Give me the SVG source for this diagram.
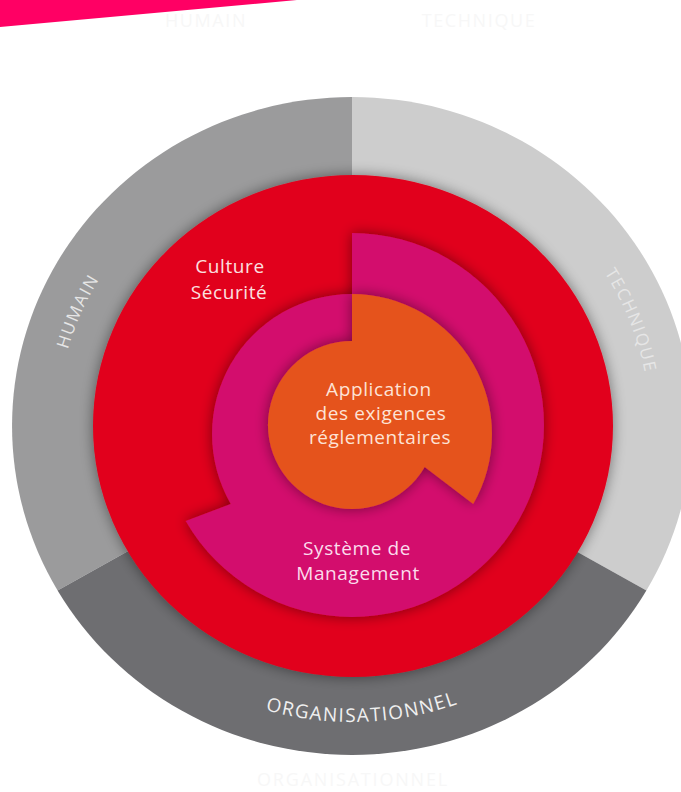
<svg xmlns="http://www.w3.org/2000/svg" xmlns:xlink="http://www.w3.org/1999/xlink" width="681" height="792" viewBox="0 0 681 792">
<style>
.lbl{font-family:"Open Sans","Liberation Sans",sans-serif;font-size:19px;letter-spacing:0.6px;text-anchor:middle}
.ring{font-family:"Open Sans","Liberation Sans",sans-serif;font-size:17px;letter-spacing:1.6px;fill:#e6e6e6}
.faint{font-family:"Open Sans","Liberation Sans",sans-serif;font-size:18px;fill:#f7f7f7;text-anchor:middle}
</style>
<defs>
<filter id="shadow" x="-20%" y="-20%" width="140%" height="140%">
<feGaussianBlur in="SourceAlpha" stdDeviation="7"/>
<feComponentTransfer><feFuncA type="linear" slope="0.45"/></feComponentTransfer>
<feMerge><feMergeNode/><feMergeNode in="SourceGraphic"/></feMerge>
</filter>
<path id="pHum" d="M78.5,532.9 A295,285.3 0 0 1 241.5,161.5"/>
<path id="pTec" d="M473.2,162.7 A298,288.2 0 0 1 624.2,543.2"/>
<path id="pOrg" d="M143.3,642.5 A306,296 0 0 0 575.8,627.9"/>
</defs>
<rect width="681" height="792" fill="#ffffff"/>
<polygon id="swoosh" points="0,0 297,0 0,27" fill="#ff0064"/>
<text class="faint" x="206" y="27" letter-spacing="1.6">HUMAIN</text>
<text class="faint" x="479" y="27" letter-spacing="1.6">TECHNIQUE</text>
<text class="faint" x="353" y="786" letter-spacing="1.8">ORGANISATIONNEL</text>
<g id="ring-humain">
<path d="M352,426 L352,97 A340,329 0 0 0 57.6,590.5 Z" fill="#9b9b9c"/>
<text class="ring"><textPath xlink:href="#pHum" href="#pHum" startOffset="50%" text-anchor="middle">HUMAIN</textPath></text>
</g>
<g id="ring-technique">
<path d="M352,426 L352,97 A340,329 0 0 1 646.4,590.5 Z" fill="#cdcdcd"/>
<text class="ring"><textPath xlink:href="#pTec" href="#pTec" startOffset="50%" text-anchor="middle">TECHNIQUE</textPath></text>
</g>
<g id="ring-organisationnel">
<path d="M352,426 L646.4,590.5 A340,329 0 0 1 57.6,590.5 Z" fill="#6e6e71"/>
<text class="ring" style="font-size:19px;letter-spacing:1.5px;fill:#f0f0f0"><textPath xlink:href="#pOrg" href="#pOrg" startOffset="50%" text-anchor="middle">ORGANISATIONNEL</textPath></text>
</g>
<g id="culture-securite">
<ellipse cx="353" cy="426" rx="260" ry="251" fill="#e1061b" filter="url(#shadow)"/>
<text class="lbl" x="230" y="273" fill="#fbe0e0">Culture</text>
<text class="lbl" x="229" y="299" fill="#fbe0e0">Sécurité</text>
</g>
<g id="systeme-management">
<path d="M352,233 A192,192 0 1 1 185.7,521 L230.8,504 A140,140 0 0 1 352,294 Z" fill="#d30f6d" filter="url(#shadow)"/>
<text class="lbl" x="357" y="555" fill="#fbdcec">Système de</text>
<text class="lbl" x="358" y="580" fill="#fbdcec">Management</text>
</g>
<g id="application">
<path d="M352,294 A140,140 0 0 1 473.2,504 L424.7,467 A84,84 0 1 1 352,341 Z" fill="#e5531f" filter="url(#shadow)"/>
<text class="lbl" x="379" y="396" fill="#fde3d6">Application</text>
<text class="lbl" x="381" y="420" fill="#fde3d6">des exigences</text>
<text class="lbl" x="380" y="444" fill="#fde3d6">réglementaires</text>
</g>
<g id="connectors"/>
</svg>
